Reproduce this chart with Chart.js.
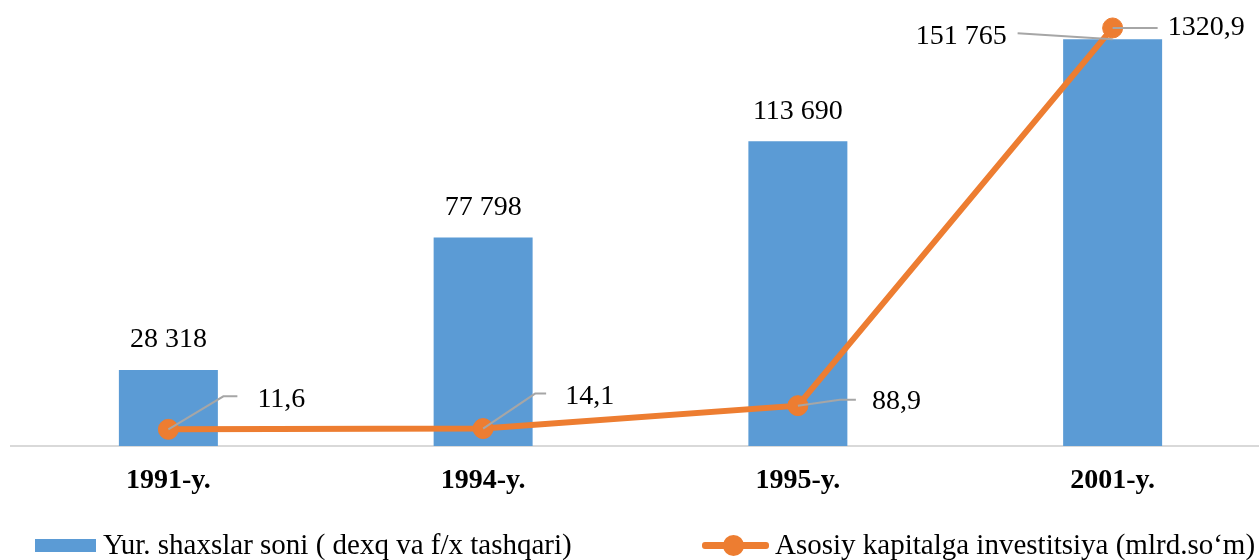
<!DOCTYPE html>
<html>
<head>
<meta charset="utf-8">
<script src="https://cdn.jsdelivr.net/npm/chart.js@4/dist/chart.umd.min.js"></script>
<style>
  html { margin:0; padding:0; overflow:hidden; width:1259px; height:560px; }
  body { margin:0; padding:0; background:#fff; width:1259px; height:560px; position:relative; overflow:hidden; }
  #wrap { position:absolute; left:0; top:0; width:1281px; height:560px; }
  #c { display:block; width:1281px; height:560px; }
  .leg { position:absolute; font-family:"Liberation Serif","Times New Roman",serif; font-size:29px; color:#000; white-space:nowrap; line-height:1; }
</style>
</head>
<body>
<div id="wrap"><canvas id="c" width="1281" height="560"></canvas></div>
<div id="legend"></div>
<script>
// ---- data ----
const categories = ["1991-y.", "1994-y.", "1995-y.", "2001-y."];
const barSeriesName = "Yur. shaxslar soni ( dexq va f/x tashqari)";
const lineSeriesName = "Asosiy kapitalga investitsiya (mlrd.so‘m)";
const barValues = [28318, 77798, 113690, 151765];
const lineValues = [11.6, 14.1, 88.9, 1320.9];
const barLabels = ["28 318", "77 798", "113 690", "151 765"];
const lineLabels = ["11,6", "14,1", "88,9", "1320,9"];

// ---- styles / label layout ----
const BLUE = "#5B9BD5", ORANGE = "#ED7D31", LEADER = "#A6A6A6";
const FONT = '"Liberation Serif","Times New Roman",serif';
const barLabelLayout = [
  {dx:0, dy:-30, align:"center"},
  {dx:0, dy:-30, align:"center"},
  {dx:0, dy:-30, align:"center"},
  {dx:-106, dy:-3, align:"right", leader:[[-95,-6],[0,0]]}
];
const lineLabelLayout = [
  {dx:89, dy:-30, leader:[[0,0],[55,-33],[69,-33]]},
  {dx:82, dy:-32, leader:[[0,0],[52,-35],[63,-35]]},
  {dx:74, dy:-4, leader:[[0,0],[42,-6],[58,-6]]},
  {dx:55, dy:0, leader:[[0,0],[45,0]]}
];

const labelPlugin = {
  id: "valueLabels",
  afterDatasetsDraw(chart) {
    const ctx = chart.ctx;
    const barMeta = chart.getDatasetMeta(chart.data.datasets.findIndex(d => d.type === "bar"));
    const lineMeta = chart.getDatasetMeta(chart.data.datasets.findIndex(d => d.type === "line"));
    ctx.save();
    ctx.strokeStyle = LEADER;
    ctx.lineWidth = 2;
    const drawLeader = (x, y, pts) => {
      ctx.beginPath();
      pts.forEach((p, k) => { if (k === 0) ctx.moveTo(x + p[0], y + p[1]); else ctx.lineTo(x + p[0], y + p[1]); });
      ctx.stroke();
    };
    ctx.font = "28px " + FONT;
    ctx.fillStyle = "#000";
    ctx.textBaseline = "middle";
    barMeta.data.forEach((bar, i) => {
      const L = barLabelLayout[i];
      if (L.leader) drawLeader(bar.x, bar.y, L.leader);
      ctx.textAlign = L.align;
      ctx.fillText(barLabels[i], bar.x + L.dx, bar.y + L.dy);
    });
    lineMeta.data.forEach((pt, i) => {
      const L = lineLabelLayout[i];
      if (L.leader) drawLeader(pt.x, pt.y, L.leader);
      ctx.textAlign = "left";
      ctx.fillText(lineLabels[i], pt.x + L.dx, pt.y + L.dy);
    });
    ctx.restore();
  }
};

new Chart(document.getElementById("c"), {
  data: {
    labels: categories,
    datasets: [
      {
        type: "line", label: lineSeriesName, data: lineValues, yAxisID: "y1", order: 0,
        borderColor: ORANGE, backgroundColor: ORANGE, borderWidth: 6,
        pointRadius: 10, pointBorderWidth: 1, pointBackgroundColor: ORANGE, pointBorderColor: ORANGE,
        tension: 0, fill: false
      },
      {
        type: "bar", label: barSeriesName, data: barValues, yAxisID: "y", order: 1,
        backgroundColor: BLUE, borderWidth: 0, barPercentage: 0.3145, categoryPercentage: 1
      }
    ]
  },
  options: {
    responsive: false,
    animation: false,
    devicePixelRatio: 1,
    layout: { padding: { left: 11, right: 0, top: 10, bottom: 0 } },
    plugins: { legend: { display: false }, tooltip: { enabled: false } },
    scales: {
      x: {
        type: "category",
        grid: { display: false, drawTicks: false, tickLength: 0 },
        border: { display: true, color: "#D9D9D9", width: 2 },
        ticks: { color: "#000", padding: 18, font: { family: FONT, size: 28, weight: "bold" }, maxRotation: 0 },
        afterFit(scale) { scale.height = 114; }
      },
      y: { display: false, min: 0, max: 162300 },
      y1: { display: false, position: "right", min: -42.75, max: 1376.2 }
    }
  },
  plugins: [labelPlugin]
});

// ---- HTML legend ----
const legend = document.getElementById("legend");
legend.innerHTML =
  '<div style="position:absolute;left:35px;top:539px;width:61px;height:13px;background:' + BLUE + '"></div>' +
  '<div class="leg" style="left:103px;top:530px;">' + barSeriesName + '</div>' +
  '<div style="position:absolute;left:702px;top:542px;width:67px;height:7px;background:' + ORANGE + ';border-radius:3px"></div>' +
  '<div style="position:absolute;left:723px;top:535px;width:21px;height:21px;border-radius:50%;background:' + ORANGE + '"></div>' +
  '<div class="leg" style="left:775px;top:530px;">' + lineSeriesName + '</div>';
</script>
</body>
</html>
